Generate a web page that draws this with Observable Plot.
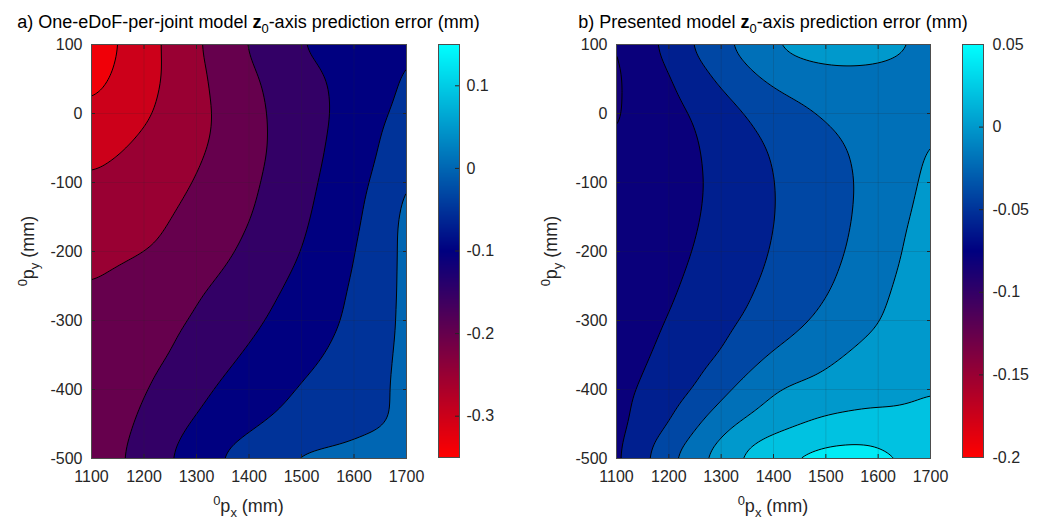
<!DOCTYPE html>
<html>
<head>
<meta charset="utf-8">
<script src="https://cdn.jsdelivr.net/npm/d3@7"></script>
<script src="https://cdn.jsdelivr.net/npm/@observablehq/plot@0.6"></script>
<style>
  body { margin: 0; background: #fff; }
  #fig { position: relative; width: 1046px; height: 523px; overflow: hidden;
         font-family: "Liberation Sans", Arial, sans-serif; color: #262626; }
  #fig > * { position: absolute; }
  .title { font-size: 18px; line-height: 18px; color: #000; text-align: center; white-space: nowrap; width: 600px; }
  .lbl { font-size: 18px; line-height: 20px; text-align: center; white-space: nowrap; width: 200px; height: 20px; }
  .rot { transform: rotate(-90deg); }
  sub, sup { font-size: 0.72em; line-height: 0; }
</style>
</head>
<body>
<div id="fig"></div>
<script>
// Workspace sample positions (mm)
const sampleX = [1100, 1150, 1200, 1250, 1300, 1350, 1400, 1450, 1500, 1550, 1600, 1650, 1700];
const sampleY = [100, 50, 0, -50, -100, -150, -200, -250, -300, -350, -400, -450, -500];

// z0-axis prediction error (mm), one row per sampleY, one column per sampleX
const errOneEDoF = [
  [-0.333, -0.302, -0.270, -0.239, -0.205, -0.174, -0.145, -0.122, -0.097, -0.087, -0.076, -0.064, -0.0515],
  [-0.320, -0.292, -0.268, -0.242, -0.212, -0.185, -0.159, -0.138, -0.119, -0.100, -0.082, -0.064, -0.043],
  [-0.294, -0.274, -0.257, -0.237, -0.215, -0.191, -0.166, -0.143, -0.123, -0.103, -0.081, -0.059, -0.035],
  [-0.267, -0.255, -0.240, -0.224, -0.208, -0.189, -0.166, -0.144, -0.121, -0.098, -0.074, -0.051, -0.010],
  [-0.245, -0.234, -0.222, -0.211, -0.199, -0.179, -0.160, -0.138, -0.115, -0.091, -0.067, -0.039, 0.012],
  [-0.230, -0.221, -0.211, -0.202, -0.186, -0.169, -0.153, -0.131, -0.108, -0.085, -0.061, -0.027, 0.018],
  [-0.215, -0.209, -0.203, -0.192, -0.175, -0.159, -0.141, -0.120, -0.100, -0.077, -0.053, -0.019, 0.014],
  [-0.199, -0.189, -0.178, -0.167, -0.157, -0.143, -0.124, -0.106, -0.087, -0.067, -0.046, -0.015, 0.012],
  [-0.193, -0.182, -0.171, -0.159, -0.147, -0.129, -0.111, -0.093, -0.077, -0.061, -0.040, -0.013, 0.012],
  [-0.187, -0.175, -0.163, -0.151, -0.131, -0.112, -0.094, -0.079, -0.063, -0.048, -0.029, -0.009, 0.012],
  [-0.182, -0.168, -0.154, -0.135, -0.112, -0.093, -0.077, -0.061, -0.046, -0.033, -0.020, -0.006, 0.012],
  [-0.177, -0.161, -0.143, -0.117, -0.094, -0.077, -0.059, -0.045, -0.035, -0.025, -0.014, -0.004, 0.008],
  [-0.173, -0.156, -0.131, -0.100, -0.072, -0.045, -0.023, -0.001, 0.012, 0.016, 0.018, 0.018, 0.018]
];

const errPresented = [
  [-0.0835, -0.0670, -0.0521, -0.0367, -0.0230, -0.0113, 0.0020, 0.0090, 0.0100, 0.0080, 0.0060, 0.0020, -0.0040],
  [-0.0845, -0.0726, -0.0623, -0.0492, -0.0364, -0.0259, -0.0154, -0.0110, -0.0070, -0.0050, -0.0050, -0.0060, -0.0070],
  [-0.0835, -0.0741, -0.0668, -0.0592, -0.0491, -0.0392, -0.0317, -0.0241, -0.0181, -0.0141, -0.0101, -0.0060, -0.0020],
  [-0.0795, -0.0736, -0.0677, -0.0619, -0.0543, -0.0460, -0.0382, -0.0319, -0.0256, -0.0192, -0.0124, -0.0057, 0.0020],
  [-0.0790, -0.0735, -0.0680, -0.0625, -0.0558, -0.0481, -0.0403, -0.0339, -0.0275, -0.0211, -0.0133, -0.0052, 0.0050],
  [-0.0790, -0.0732, -0.0674, -0.0616, -0.0548, -0.0476, -0.0404, -0.0338, -0.0272, -0.0205, -0.0119, -0.0032, 0.0090],
  [-0.0790, -0.0724, -0.0659, -0.0593, -0.0525, -0.0457, -0.0389, -0.0322, -0.0255, -0.0184, -0.0095, -0.0005, 0.0160],
  [-0.0780, -0.0704, -0.0629, -0.0559, -0.0493, -0.0426, -0.0359, -0.0291, -0.0223, -0.0145, -0.0060, 0.0044, 0.0205],
  [-0.0740, -0.0659, -0.0590, -0.0522, -0.0454, -0.0385, -0.0308, -0.0232, -0.0159, -0.0087, -0.0016, 0.0089, 0.0203],
  [-0.0700, -0.0624, -0.0550, -0.0476, -0.0403, -0.0288, -0.0184, -0.0115, -0.0047, 0.0019, 0.0080, 0.0141, 0.0202],
  [-0.0660, -0.0582, -0.0495, -0.0407, -0.0258, -0.0124, -0.0002, 0.0034, 0.0069, 0.0103, 0.0120, 0.0150, 0.0190],
  [-0.0680, -0.0537, -0.0415, -0.0234, -0.0068, 0.0041, 0.0112, 0.0183, 0.0240, 0.0260, 0.0280, 0.0260, 0.0240],
  [-0.0680, -0.0438, -0.0226, -0.0048, 0.0120, 0.0268, 0.0395, 0.0460, 0.0500, 0.0510, 0.0475, 0.0410, 0.0360]
];

// Contour levels (the first one fills everything below the second) and colour limits
const levelsOneEDoF = [-0.335, -0.3, -0.25, -0.2, -0.15, -0.1, -0.05, 0];
const levelsPresented = [-0.085, -0.08, -0.06, -0.04, -0.02, 0, 0.02, 0.04];
const climOneEDoF = [-0.35, 0.15];
const climPresented = [-0.2, 0.05];

// Tick labels
const xTicks = [1100, 1200, 1300, 1400, 1500, 1600, 1700];
const yTicks = [100, 0, -100, -200, -300, -400, -500];
const barTicksOneEDoF = [0.1, 0, -0.1, -0.2, -0.3];
const barTicksPresented = [0.05, 0, -0.05, -0.1, -0.15, -0.2];

// red -> navy -> cyan colour map
const cmap = ["#ff0000", "#000080", "#00ffff"];

const fig = document.getElementById("fig");
const font = {fontFamily: "'Liberation Sans', Arial, sans-serif", fontSize: "16px", color: "#262626", background: "transparent", overflow: "visible"};
const fmt = d => String(d);

function colorScale(clim) {
  return {type: "linear", domain: [clim[0], (clim[0] + clim[1]) / 2, clim[1]], range: cmap, interpolate: "rgb"};
}

function samples(z) {
  return sampleY.flatMap((y, i) => sampleX.map((x, j) => ({x, y, err: z[i][j]})));
}

function contourPanel({z, levels, clim, left, width, marginLeft, marginRight}) {
  const pts = samples(z);
  const common = {x: "x", y: "y", interpolate: "barycentric", pixelSize: 1, blur: 12};
  const svg = Plot.plot({
    width, height: 523,
    marginLeft, marginRight, marginTop: 44, marginBottom: 65,
    style: font,
    x: {domain: [1100, 1700]},
    y: {domain: [-500, 100]},
    color: colorScale(clim),
    marks: [
      Plot.contour(pts, {...common, fill: "err", thresholds: levels, stroke: "none"}),
      Plot.contour(pts, {...common, value: "err", thresholds: levels.slice(1), fill: "none", stroke: "#000", strokeWidth: 1}),
      Plot.gridX(xTicks, {stroke: "#262626", strokeOpacity: 0.2, strokeWidth: 0.8}),
      Plot.gridY(yTicks, {stroke: "#262626", strokeOpacity: 0.2, strokeWidth: 0.8}),
      Plot.axisX(xTicks, {anchor: "bottom", tickSize: 4, dy: -4, tickFormat: () => "", label: null}),
      Plot.axisX(xTicks, {anchor: "top", tickSize: 4, dy: 4, tickFormat: () => "", label: null}),
      Plot.axisY(yTicks, {anchor: "left", tickSize: 4, dx: 4, tickFormat: () => "", label: null}),
      Plot.axisY(yTicks, {anchor: "right", tickSize: 4, dx: -4, tickFormat: () => "", label: null}),
      Plot.axisX(xTicks, {anchor: "bottom", tickSize: 0, tickPadding: 12, tickFormat: fmt, label: null}),
      Plot.axisY(yTicks, {anchor: "left", tickSize: 0, tickPadding: 9, tickFormat: fmt, label: null}),
      Plot.frame({stroke: "#4d4d4d", strokeWidth: 1})
    ]
  });
  svg.style.left = left + "px";
  svg.style.top = "0px";
  fig.appendChild(svg);
}

function colorbar({clim, ticks, left, width, tickPadding}) {
  const svg = Plot.plot({
    width, height: 523,
    marginLeft: 2, marginRight: width - 23, marginTop: 44, marginBottom: 66,
    style: font,
    x: {domain: [0, 1], axis: null},
    y: {domain: clim},
    color: colorScale(clim),
    marks: [
      Plot.raster({x1: 0, x2: 1, y1: clim[0], y2: clim[1], fill: (x, y) => y, pixelSize: 1}),
      Plot.axisY(ticks, {anchor: "right", tickSize: 5, dx: -5, tickFormat: () => "", label: null, stroke: "#262626"}),
      Plot.axisY(ticks, {anchor: "right", tickSize: 0, tickPadding, tickFormat: fmt, label: null}),
      Plot.frame({stroke: "#4d4d4d", strokeWidth: 1})
    ]
  });
  svg.style.left = left + "px";
  svg.style.top = "0px";
  fig.appendChild(svg);
}

function html(cls, inner, x, y, extra = "") {
  const d = document.createElement("div");
  d.className = cls;
  d.innerHTML = inner;
  d.style.cssText = `left:${x}px;top:${y}px;${extra}`;
  fig.appendChild(d);
}

// a) One-eDoF-per-joint model
contourPanel({z: errOneEDoF, levels: levelsOneEDoF, clim: climOneEDoF, left: 0, width: 520, marginLeft: 91, marginRight: 114});
colorbar({clim: climOneEDoF, ticks: barTicksOneEDoF, left: 436, width: 80, tickPadding: 7});

// b) Presented model
contourPanel({z: errPresented, levels: levelsPresented, clim: climPresented, left: 520, width: 526, marginLeft: 96, marginRight: 116});
colorbar({clim: climPresented, ticks: barTicksPresented, left: 960, width: 86, tickPadding: 9});

// Titles and axis labels
html("title", "a) One-eDoF-per-joint model <b>z</b><sub>0</sub>-axis prediction error (mm)", 248.5 - 300, 13);
html("title", "b) Presented model <b>z</b><sub>0</sub>-axis prediction error (mm)", 773 - 300, 13);
html("lbl", "<sup>0</sup>p<sub>x</sub> (mm)", 248.5 - 100, 496);
html("lbl", "<sup>0</sup>p<sub>x</sub> (mm)", 773 - 100, 496);
html("lbl rot", "<sup>0</sup>p<sub>y</sub> (mm)", 28 - 100, 251 - 10);
html("lbl rot", "<sup>0</sup>p<sub>y</sub> (mm)", 551 - 100, 251 - 10);
</script>
</body>
</html>
